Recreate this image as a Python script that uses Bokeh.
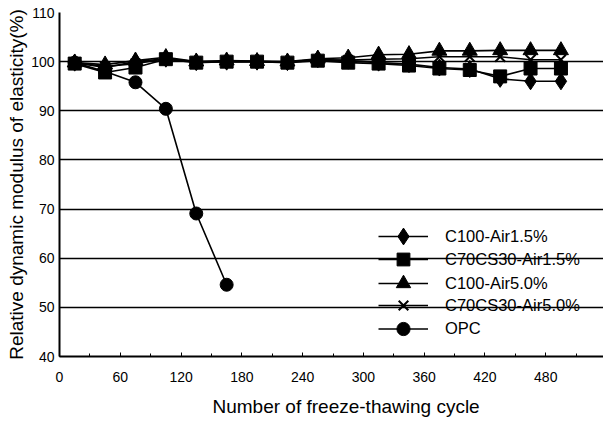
import math
from bokeh.plotting import figure
from bokeh.models import Legend, LegendItem, FixedTicker, Range1d, Title
from bokeh.embed import file_html
from bokeh.resources import INLINE

# ---- data ----
cycles = [15, 45, 75, 105, 135, 165, 195, 225, 255, 285, 315, 345, 375, 405, 435, 465, 495]
c100_air15 = [99.8, 98.8, 100.0, 100.6, 99.9, 100.0, 100.0, 99.9, 100.5, 100.2, 99.8, 99.5, 98.8, 98.5, 96.5, 96.0, 96.0]
c70cs30_air15 = [99.6, 97.8, 98.8, 100.5, 99.8, 100.0, 100.0, 99.8, 100.2, 99.8, 99.6, 99.2, 98.6, 98.3, 97.0, 98.6, 98.6]
c100_air50 = [99.8, 99.4, 100.2, 100.9, 100.0, 100.2, 100.1, 100.0, 100.6, 100.8, 101.4, 101.5, 102.2, 102.2, 102.3, 102.3, 102.3]
c70cs30_air50 = [99.8, 99.0, 99.6, 100.6, 100.0, 100.0, 100.0, 99.9, 100.3, 100.3, 100.5, 100.6, 101.0, 101.0, 101.0, 100.4, 100.4]
opc_cycles = [15, 45, 75, 105, 135, 165]
opc = [99.8, 98.0, 95.8, 90.4, 69.1, 54.6]

series_labels = ["C100-Air1.5%", "C70CS30-Air1.5%", "C100-Air5.0%", "C70CS30-Air5.0%", "OPC"]
x_ticks = [0, 60, 120, 180, 240, 300, 360, 420, 480]
y_ticks = [40, 50, 60, 70, 80, 90, 100, 110]
x_title = "Number of freeze-thawing cycle"
y_title = "Relative dynamic modulus of elasticity(%)"

FONT = "Liberation Sans"

p = figure(width=603, height=425, output_backend="svg", toolbar_location=None,
           x_range=Range1d(0, 537), y_range=Range1d(40, 110),
           min_border_left=59, min_border_right=0, min_border_top=12, min_border_bottom=68)
p.outline_line_color = None
p.background_fill_color = "white"
p.border_fill_color = "white"

# grid
p.xgrid.visible = False
p.ygrid.ticker = FixedTicker(ticks=[50, 60, 70, 80, 90, 100, 110])
p.ygrid.grid_line_color = "black"
p.ygrid.grid_line_width = 1.3

# axes
p.xaxis.ticker = FixedTicker(ticks=x_ticks, minor_ticks=list(range(0, 540, 30)))
p.yaxis.ticker = FixedTicker(ticks=y_ticks)
for ax in (p.xaxis[0], p.yaxis[0]):
    ax.axis_line_color = "black"
    ax.axis_line_width = 2
    ax.major_label_text_font = FONT
    ax.major_label_text_font_size = "14px"
    ax.major_label_text_color = "black"
    ax.axis_label_text_font = FONT
    ax.axis_label_text_font_style = "normal"
    ax.axis_label_text_color = "black"
p.yaxis.axis_label_text_font_size = "19px"
p.xaxis.major_tick_in = 4
p.xaxis.major_tick_out = 0
p.xaxis.minor_tick_in = 3
p.xaxis.minor_tick_out = 0
p.xaxis.major_tick_line_color = "black"
p.xaxis.minor_tick_line_color = "black"
p.xaxis.major_label_standoff = 15
p.yaxis.major_tick_in = 0
p.yaxis.major_tick_out = 0
p.yaxis.minor_tick_line_color = None
p.yaxis.major_label_standoff = 5
p.yaxis.axis_label = y_title
p.yaxis.axis_label_standoff = 1

# x-axis title as a Title below the axis, shifted right as in the original
xt = Title(text=x_title, align="left", offset=153, standoff=18,
           text_font=FONT, text_font_size="19px", text_font_style="normal",
           text_color="black")
p.add_layout(xt, "below")

LW = 1.6

l1 = p.line(cycles, c100_air15, line_color="black", line_width=LW)
m1 = p.scatter(cycles, c100_air15, marker="diamond", size=17,
               fill_color="black", line_color="black")
l2 = p.line(cycles, c70cs30_air15, line_color="black", line_width=LW)
m2 = p.scatter(cycles, c70cs30_air15, marker="square", size=13,
               fill_color="black", line_color="black")
l3 = p.line(cycles, c100_air50, line_color="black", line_width=LW)
m3 = p.scatter(cycles, c100_air50, marker="triangle", size=15,
               fill_color="black", line_color="black")
l4 = p.line(cycles, c70cs30_air50, line_color="black", line_width=LW)
m4 = p.scatter(cycles, c70cs30_air50, marker="x", size=14,
               line_color="black", line_width=2)
l5 = p.line(opc_cycles, opc, line_color="black", line_width=LW)
m5 = p.scatter(opc_cycles, opc, marker="circle", size=13,
               fill_color="black", line_color="black")

renderers = [[l1, m1], [l2, m2], [l3, m3], [l4, m4], [l5, m5]]
# one small legend per entry so the rows can sit close with large markers
glyph_heights = [42, 32, 36, 34, 33]
row_centres = [120, 97, 73, 51, 28]   # px above the bottom axis
for lab, rs, gh, rc in zip(series_labels, renderers, glyph_heights, row_centres):
    lg = Legend(items=[LegendItem(label=lab, renderers=rs)],
                location=(319, rc - gh / 2), orientation="vertical")
    lg.background_fill_alpha = 0
    lg.border_line_color = None
    lg.padding = 0
    lg.margin = 0
    lg.spacing = 0
    lg.glyph_width = 50
    lg.glyph_height = gh
    lg.label_height = 20
    lg.label_standoff = 17
    lg.label_text_font = FONT
    lg.label_text_font_size = "16.5px"
    lg.label_text_color = "black"
    p.add_layout(lg)

open("out.html", "w").write(file_html(p, INLINE))
